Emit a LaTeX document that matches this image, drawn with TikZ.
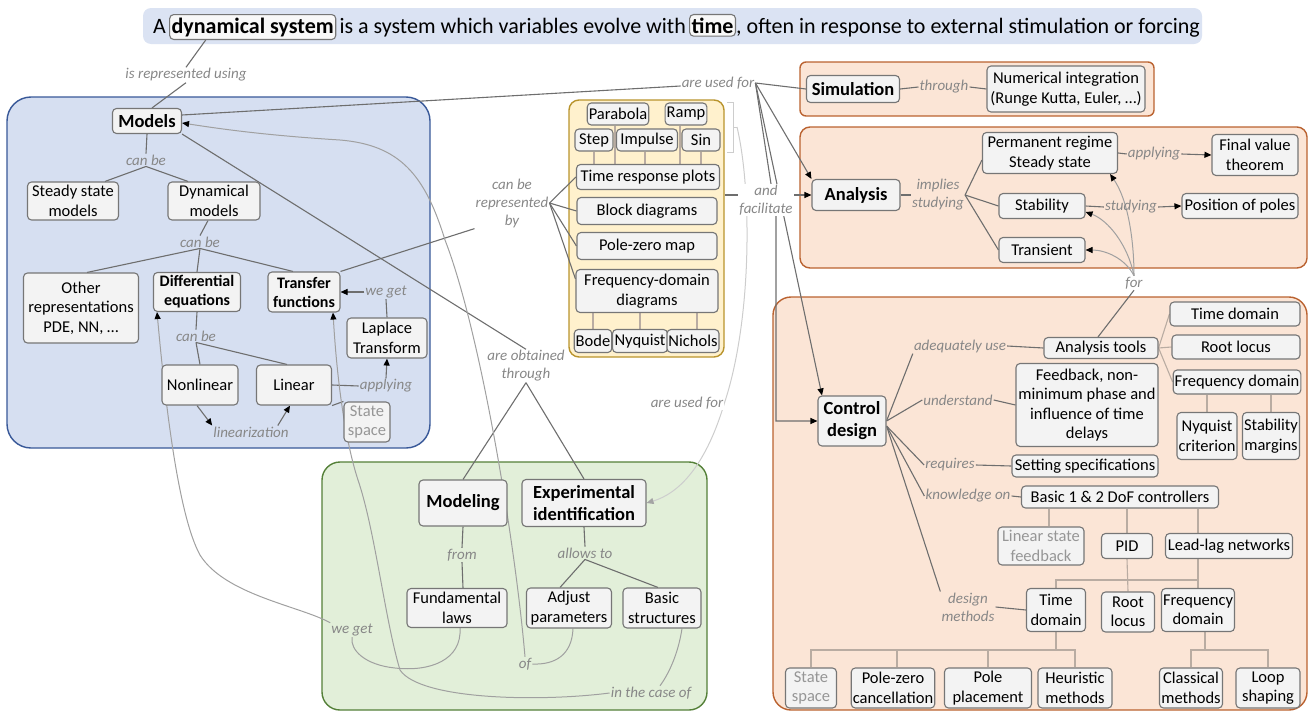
\documentclass[tikz,border=0pt]{standalone}
\usepackage{fontspec}
\setmainfont{Carlito}
\usetikzlibrary{arrows.meta}
\definecolor{ndraw}{RGB}{118,118,118}
\definecolor{nfill}{RGB}{243,243,243}
\definecolor{gtext}{RGB}{150,150,150}
\definecolor{ltext}{RGB}{135,135,135}
\definecolor{lcol}{RGB}{110,110,110}
\definecolor{ccol}{RGB}{160,160,160}
\definecolor{vcol}{RGB}{205,205,205}
\definecolor{buscol}{RGB}{185,172,162}
\definecolor{bannerfill}{RGB}{219,227,243}
\definecolor{bluefill}{RGB}{214,223,241}
\definecolor{blueline}{RGB}{56,88,152}
\definecolor{yelfill}{RGB}{255,241,205}
\definecolor{yelline}{RGB}{185,148,45}
\definecolor{grnfill}{RGB}{226,239,217}
\definecolor{grnline}{RGB}{84,128,56}
\definecolor{orfill}{RGB}{251,229,214}
\definecolor{orline}{RGB}{186,98,48}
\pgfdeclarelayer{bg}
\pgfdeclarelayer{lines}
\pgfsetlayers{bg,lines,main}
\begin{document}
\begin{tikzpicture}[x=1pt,y=-1pt,
  cn/.style={draw=ndraw, fill=nfill, rounded corners=4pt, line width=1.1pt, align=center, inner sep=1.5pt, text=black, font=\fontsize{16.5}{19.5}\selectfont},
  cb/.style={cn, font=\fontsize{18.5}{22}\selectfont\bfseries},
  cbs/.style={cn, font=\fontsize{16}{19}\selectfont\bfseries},
  cg/.style={cn, text=gtext},
  lk/.style={font=\fontsize{15}{18}\selectfont\itshape, text=ltext, align=center, inner sep=1pt},
  sz/.style args={#1/#2}{minimum width=#1pt, minimum height=#2pt},
  conn/.style={draw=lcol, line width=1.1pt},
  curveline/.style={draw=ccol, line width=1pt},
  vcurve/.style={draw=vcol, line width=1pt},
  bus/.style={draw=buscol, line width=1.1pt},
  arr/.style={-{Triangle[length=7pt,width=6pt,color=black]}},
  arrl/.style={-{Triangle[length=7pt,width=6pt,color=vcol!80!black]}},
  reg/.style={line width=1.4pt, inner sep=0pt},
  bt/.style={inner sep=0pt, font=\fontsize{22}{24}\selectfont},
  bbox/.style={draw=ndraw, fill=nfill!60!white, rounded corners=4pt, line width=1.1pt, inner xsep=2pt, inner ysep=3pt, font=\fontsize{22}{24}\selectfont}
]
\useasboundingbox (0,0) rectangle (1309,712);

\begin{pgfonlayer}{bg}
  \node[reg, fill=bannerfill, rounded corners=8pt, sz=1059/36] (banner) at (672.5,26) {};
  \node[reg, fill=bluefill, draw=blueline, rounded corners=24pt, sz=423/351] (bluereg) at (218.5,272.5) {};
  \node[reg, fill=yelfill, draw=yelline, rounded corners=10pt, sz=155/257] (yel) at (646.5,228.5) {};
  \node[reg, fill=grnfill, draw=grnline, rounded corners=18pt, sz=385/248] (grnreg) at (514.5,586) {};
  \node[reg, fill=orfill, draw=orline, rounded corners=6pt, sz=354/54] (simreg) at (977,89) {};
  \node[reg, fill=orfill, draw=orline, rounded corners=10pt, sz=507/141] (anreg) at (1053.5,197.5) {};
  \node[reg, fill=orfill, draw=orline, rounded corners=18pt, sz=534/413] (cdreg) at (1040,503.5) {};
\end{pgfonlayer}

% banner text
\node[bt, anchor=base west] (bA) at (153,33) {A};
\node[bbox, anchor=base west] (ds) at ([xshift=3pt]bA.base east) {\textbf{dynamical system}};
\node[bt, anchor=base west] (b2) at ([xshift=3pt]ds.base east) {is a system which variables evolve with};
\node[bbox, anchor=base west] (tm) at ([xshift=3pt]b2.base east) {\textbf{time}};
\node[bt, anchor=base west] (b3) at (tm.base east) {, often in response to external stimulation or forcing};

% ---------- left (blue) ----------
\node[cb, sz=69/25] (models) at (147,121) {Models};
\node[lk] (lrep) at (186,75) {is represented using};
\node[lk] (lcan1) at (146,160) {can be};
\node[cn, sz=91/38] (ssm) at (73,201) {Steady state\\models};
\node[cn, sz=92/38] (dyn) at (214,201) {Dynamical\\models};
\node[lk] (lcan2) at (200,242) {can be};
\node[cn, sz=115/70] (other) at (81,308) {Other\\representations\\PDE, NN, \ldots};
\node[cbs, sz=87/39] (diffeq) at (197,292) {Differential\\equations};
\node[cbs, sz=72/40] (tf) at (304,292) {Transfer\\functions};
\node[cn, sz=80/40] (laplace) at (387,338) {Laplace\\Transform};
\node[lk] (lweget1) at (386,292) {we get};
\node[lk] (lcan3) at (196,336) {can be};
\node[cn, sz=76/40] (nonlin) at (200,385) {Nonlinear};
\node[cn, sz=75/40] (lin) at (294,385) {Linear};
\node[lk] (lapply1) at (386,386) {applying};
\node[cg, sz=46/40] (ss1) at (367,422) {State\\space};
\node[lk] (llin) at (251,432) {linearization};

% ---------- yellow ----------
\node[cn, sz=60/22] (parab) at (618,114) {Parabola};
\node[cn, sz=41/22] (ramp) at (686,114) {Ramp};
\node[cn, sz=38/22] (step) at (594,140) {Step};
\node[cn, sz=61/22] (impulse) at (647,140) {Impulse};
\node[cn, sz=38/22] (sin) at (701,140) {Sin};
\node[cn, sz=143/25] (trp) at (648,177) {Time response plots};
\node[cn, sz=140/27] (bd) at (647,211) {Block diagrams};
\node[cn, sz=140/27] (pz) at (647,246) {Pole-zero map};
\node[cn, sz=142/43] (fdd) at (647,291) {Frequency-domain\\diagrams};
\node[cn, sz=37/23] (bode) at (593,341) {Bode};
\node[cn, sz=55/23] (nyq) at (640,341) {Nyquist};
\node[cn, sz=49/23] (nich) at (693,341) {Nichols};
\node[lk] (lcrb) at (512,203) {can be\\represented\\by};

% ---------- middle labels ----------
\node[lk] (lused1) at (718,83) {are used for};
\node[lk, fill=white] (lfac) at (766,200) {and\\facilitate};
\node[lk] (lobt) at (526,366) {are obtained\\through};
\node[lk, fill=white] (lused2) at (687,403) {are used for};

% ---------- green ----------
\node[cb, sz=88/46] (modeling) at (463,503) {Modeling};
\node[cb, sz=124/47] (expid) at (584,503) {Experimental\\identification};
\node[lk] (lfrom) at (462,555) {from};
\node[lk] (lallows) at (585,553) {allows to};
\node[cn, sz=100/39] (fund) at (457,608) {Fundamental\\laws};
\node[cn, sz=85/40] (adjust) at (569,608) {Adjust\\parameters};
\node[cn, sz=78/40] (basicstr) at (662,608) {Basic\\structures};
\node[lk] (lweget2) at (352,630) {we get};
\node[lk] (lof) at (525,664) {of};
\node[lk] (lcase) at (651,693) {in the case of};

% ---------- simulation / analysis ----------
\node[cb, sz=93/27] (sim) at (853,89) {Simulation};
\node[lk] (lthrough) at (944,87) {through};
\node[cn, sz=158/46] (numint) at (1066,89) {Numerical integration\\(Runge Kutta, Euler, \ldots)};
\node[cb, sz=88/31] (analysis) at (856,195) {Analysis};
\node[lk] (limpl) at (938,195) {implies\\studying};
\node[cn, sz=135/41] (perm) at (1050,153) {Permanent regime\\Steady state};
\node[cn, sz=86/25] (stab) at (1042,206) {Stability};
\node[cn, sz=86/25] (trans) at (1042,250) {Transient};
\node[lk] (lapply2) at (1154,154) {applying};
\node[cn, sz=86/41] (fvt) at (1255,155) {Final value\\theorem};
\node[lk] (lstud) at (1131,207) {studying};
\node[cn, sz=116/25] (pop) at (1240,206) {Position of poles};
\node[lk] (lfor) at (1134,283) {for};

% ---------- control design ----------
\node[cb, sz=68/50] (cd) at (852,421) {Control\\design};
\node[lk] (ladeq) at (960,346) {adequately use};
\node[cn, sz=114/21] (atools) at (1101,348) {Analysis tools};
\node[cn, sz=130/24] (tdom1) at (1235,314) {Time domain};
\node[cn, sz=128/24] (rloc1) at (1236,347) {Root locus};
\node[cn, sz=126/24] (fdom1) at (1237,382) {Frequency domain};
\node[cn, sz=60/47] (nyqc) at (1207,436) {Nyquist\\criterion};
\node[cn, sz=57/47] (stabm) at (1271,436) {Stability\\margins};
\node[lk] (lund) at (958,400) {understand};
\node[cn, sz=142/83] (feedback) at (1087,405) {Feedback, non-\\minimum phase and\\influence of time\\delays};
\node[lk] (lreq) at (950,465) {requires};
\node[cn, sz=146/22] (setspec) at (1085,466) {Setting specifications};
\node[lk] (lknow) at (968,496) {knowledge on};
\node[cn, sz=197/22] (basic) at (1120,497) {Basic 1 \& 2 DoF controllers};
\node[cg, sz=86/38] (lsf) at (1041,546) {Linear state\\feedback};
\node[cn, sz=51/25] (pid) at (1127,546) {PID};
\node[cn, sz=127/25] (leadlag) at (1229,546) {Lead-lag networks};
\node[lk] (ldes) at (968,607) {design\\methods};
\node[cn, sz=59/43] (tdom2) at (1056,610) {Time\\domain};
\node[cn, sz=53/40] (rloc2) at (1128,612) {Root\\locus};
\node[cn, sz=70/43] (fdom2) at (1198,610) {Frequency\\domain};
\node[cg, sz=51/40] (ss2) at (811,688) {State\\space};
\node[cn, sz=83/40] (pzc) at (893,688) {Pole-zero\\cancellation};
\node[cn, sz=87/40] (pp) at (988,688) {Pole\\placement};
\node[cn, sz=74/40] (heur) at (1075,688) {Heuristic\\methods};
\node[cn, sz=63/40] (classic) at (1191,688) {Classical\\methods};
\node[cn, sz=64/40] (loop) at (1268,688) {Loop\\shaping};

\coordinate (brk) at (737,127);
\coordinate (jA) at (1198,580);
\coordinate (jB) at (1056,650);
\coordinate (jC) at (1205,650);

\begin{pgfonlayer}{lines}
  % bracket of input signals
  \draw[vcurve] (727,102) -- (733,102) -- (733,152) -- (727,152);
  \draw[vcurve] (733,127) -- (brk);
  \draw[vcurve, arrl] (brk) .. controls (752,190) and (752,320) .. (lused2.east)
        .. controls (712,445) and (690,490) .. (expid.east);

  % left
  \draw[conn] ([xshift=-47pt]ds.south) -- (lrep.north);
  \draw[conn] (lrep.south) -- ([xshift=5pt]models.north);
  \draw[conn] (models.south) -- (lcan1.north);
  \draw[conn] (lcan1.south) -- ([xshift=32pt]ssm.north);
  \draw[conn] (lcan1.south) -- ([xshift=-26pt]dyn.north);
  \draw[conn] ([xshift=-6pt]dyn.south) -- (lcan2.north);
  \draw[conn] (lcan2.south) -- ([xshift=6pt]other.north);
  \draw[conn] (lcan2.south) -- (diffeq.north);
  \draw[conn] (lcan2.south) -- ([xshift=-11pt]tf.north);
  \draw[conn] (diffeq.south) -- (lcan3.north);
  \draw[conn] (lcan3.south) -- (nonlin.north);
  \draw[conn] (lcan3.south) -- ([xshift=-7pt]lin.north);
  \draw[conn] (laplace.north) -- (lweget1.south);
  \draw[conn, arr] (lweget1.west) -- (tf.east);
  \draw[conn] (lin.east) -- (lapply1.west);
  \draw[conn, arr] (lapply1.north) -- (laplace.south);
  \draw[conn] (lin.south east) -- (ss1.north west);
  \draw[conn, arr] ([xshift=-3pt]nonlin.south) -- (llin.north west);
  \draw[conn, arr] ([xshift=-12pt]llin.north east) -- ([xshift=-4pt]lin.south);

  % models to uses
  \draw[conn] ([yshift=6pt]models.east) -- ([yshift=-3pt]lused1.west);
  \draw[conn] (lused1.east) -- (sim.west);
  \draw[conn, arr] (lused1.east) -- (analysis.north west);
  \draw[conn, arr] (lused1.east) -- ([xshift=-30pt]cd.north);
  \draw[conn, arr] (lused1.east) -- ([xshift=10pt]lfac.south) |- (cd.west);
  \draw[conn] (yel.east |- analysis.west) -- (lfac.west |- analysis.west);
  \draw[conn, arr] (lfac.east |- analysis.west) -- (analysis.west);

  % representations
  \draw[conn] (tf.north east) -- (lcrb.south west);
  \draw[conn] (lcrb.east) -- (trp.west);
  \draw[conn] (lcrb.east) -- (bd.west);
  \draw[conn] (lcrb.east) -- (pz.west);
  \draw[conn] (lcrb.east) -- ([yshift=12pt]fdd.west);
  \draw[bus] (step.south) -- (step.south |- trp.north);
  \draw[bus] ([xshift=-3pt]parab.south) -- ([xshift=-3pt]parab.south |- trp.north);
  \draw[bus] ([xshift=-2pt]impulse.south) -- ([xshift=-2pt]impulse.south |- trp.north);
  \draw[bus] ([xshift=-6pt]ramp.south) -- ([xshift=-6pt]ramp.south |- trp.north);
  \draw[bus] (sin.south) -- (sin.south |- trp.north);
  \draw[bus] (bode.north) -- (bode.north |- fdd.south);
  \draw[bus] (nyq.north) -- (nyq.north |- fdd.south);
  \draw[bus] ([xshift=4pt]nich.north) -- ([xshift=4pt]nich.north |- fdd.south);

  % obtained through
  \draw[conn] (models.south east) -- (lobt.north);
  \draw[conn] (lobt.south) -- (modeling.north);
  \draw[conn] (lobt.south) -- (expid.north);
  \draw[conn] (modeling.south) -- (lfrom.north);
  \draw[conn] (lfrom.south) -- ([xshift=6pt]fund.north);
  \draw[conn] (expid.south) -- (lallows.north);
  \draw[conn] (lallows.south) -- ([xshift=-9pt]adjust.north);
  \draw[conn] (lallows.south) -- ([xshift=-4pt]basicstr.north);

  % long curves
  \draw[curveline] ([xshift=3pt]fund.south) .. controls (462,660) and (430,672) .. (395,668)
        .. controls (365,665) and (350,650) .. (lweget2.south);
  \draw[curveline, arr] (lweget2.north west) .. controls (300,606) and (225,595) .. (200,555)
        .. controls (178,515) and (165,400) .. ([xshift=-40pt]diffeq.south);
  \draw[curveline] ([xshift=4pt]adjust.south) .. controls (572,655) and (555,665) .. (lof.east);
  \draw[curveline, arr] (lof.north) .. controls (515,540) and (480,330) .. (445,240)
        .. controls (425,175) and (400,145) .. (340,140)
        .. controls (260,135) and (215,128) .. ([yshift=-2pt]models.east);
  \draw[curveline] ([xshift=20pt]basicstr.south) .. controls (678,655) and (668,675) .. ([xshift=9pt]lcase.north);
  \draw[curveline, arr] (lcase.west) .. controls (540,702) and (420,700) .. (400,670)
        .. controls (385,620) and (375,530) .. (358,480)
        .. controls (345,440) and (337,380) .. ([xshift=29pt]tf.south);

  % simulation / analysis
  \draw[conn] (sim.east) -- (lthrough.west);
  \draw[conn] (lthrough.east) -- (numint.west);
  \draw[conn] (analysis.east) -- (limpl.west);
  \draw[conn] (limpl.east) -- ([yshift=-7pt]perm.west);
  \draw[conn] (limpl.east) -- (stab.west);
  \draw[conn] (limpl.east) -- (trans.west);
  \draw[conn] (perm.east) -- (lapply2.west);
  \draw[conn, arr] (lapply2.east) -- (fvt.west);
  \draw[conn] (stab.east) -- (lstud.west);
  \draw[conn, arr] (lstud.east) -- (pop.west);
  \draw[conn] ([xshift=-3pt]atools.north) -- (lfor.south);
  \draw[curveline, arr] (lfor.north) .. controls (1134,240) and (1128,200) .. ([xshift=-8pt]perm.south east);
  \draw[curveline, arr] (lfor.north) .. controls (1128,245) and (1108,220) .. ([yshift=-6pt]stab.east);
  \draw[curveline, arr] (lfor.north) .. controls (1125,258) and (1105,250) .. (trans.east);

  % control design
  \draw[conn] (cd.east) -- (ladeq.south west);
  \draw[conn] (cd.east) -- (lund.west);
  \draw[conn] ([yshift=-5pt]cd.east) -- (lreq.west);
  \draw[conn] ([yshift=-5pt]cd.east) -- (lknow.west);
  \draw[conn] ([yshift=-5pt]cd.east) -- (ldes.north west);
  \draw[conn] (ladeq.east) -- (atools.west);
  \draw[conn] (lund.east) -- (feedback.west);
  \draw[conn] (lreq.east) -- (setspec.west);
  \draw[conn] (lknow.east) -- (basic.west);
  \draw[conn] (ldes.east) -- (tdom2.west);
  \draw[bus] (atools.east) -- (tdom1.west);
  \draw[bus] (atools.east) -- (rloc1.west);
  \draw[bus] (atools.east) -- (fdom1.west);
  \draw[bus] (nyqc.north) -- (nyqc.north |- fdom1.south);
  \draw[bus] (stabm.north) -- (stabm.north |- fdom1.south);
  \draw[bus] ([xshift=8pt]lsf.north) -- ([xshift=8pt]lsf.north |- basic.south);
  \draw[bus] (pid.north) -- (pid.north |- basic.south);
  \draw[bus] ([xshift=-31pt]leadlag.north) -- ([xshift=-31pt]leadlag.north |- basic.south);
  \draw[bus] (pid.south) -- (rloc2.north);
  \draw[bus] ([xshift=-31pt]leadlag.south) -- (fdom2.north);
  \draw[bus] (jA) -| (tdom2.north);
  \draw[bus] (tdom2.south) -- (jB);
  \draw[bus] (ss2.north) |- (jB);
  \draw[bus] (jB) -| (heur.north);
  \draw[bus] ([xshift=4pt]pzc.north) -- ([xshift=4pt]pzc.north |- jB);
  \draw[bus] (pp.north) -- (pp.north |- jB);
  \draw[bus] ([xshift=7pt]fdom2.south) -- (jC);
  \draw[bus] (classic.north) |- (jC) -| (loop.north);
\end{pgfonlayer}
\end{tikzpicture}
\end{document}
